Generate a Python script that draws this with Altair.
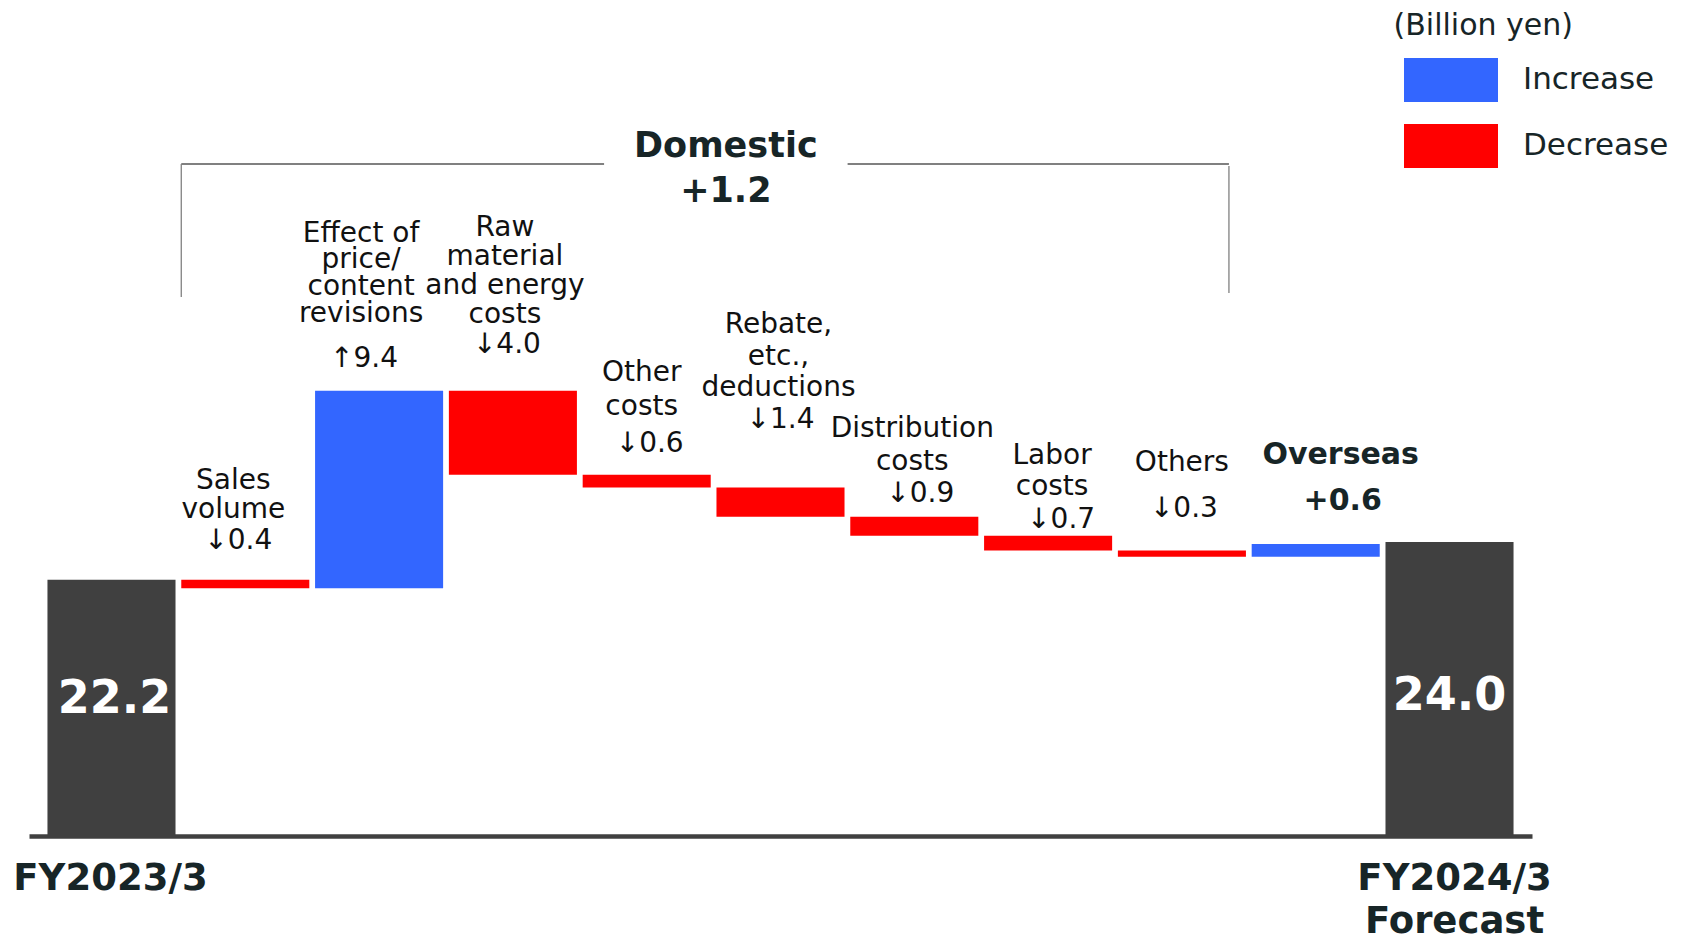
import altair as alt
import pandas as pd

# ---------------- data ----------------
categories = [
    "FY2023/3", "Sales volume", "Effect of price/content revisions",
    "Raw material and energy costs", "Other costs", "Rebate, etc., deductions",
    "Distribution costs", "Labor costs", "Others", "Overseas", "FY2024/3 Forecast",
]
kinds = ["Total", "Decrease", "Increase", "Decrease", "Decrease", "Decrease",
         "Decrease", "Decrease", "Decrease", "Increase", "Total"]
start_total = 22.2
changes = [-0.4, 9.4, -4.0, -0.6, -1.4, -0.9, -0.7, -0.3, 0.6]
end_total = 24.0
category_lines = [
    ["FY2023/3"], ["Sales", "volume"], ["Effect of", "price/", "content", "revisions"],
    ["Raw", "material", "and energy", "costs"], ["Other", "costs"],
    ["Rebate,", "etc.,", "deductions"], ["Distribution", "costs"], ["Labor", "costs"],
    ["Others"], ["Overseas"], ["FY2024/3", "Forecast"],
]
value_labels = ["22.2", "↓0.4", "↑9.4", "↓4.0", "↓0.6", "↓1.4", "↓0.9", "↓0.7",
                "↓0.3", "+0.6", "24.0"]
domestic_label = ["Domestic", "+1.2"]
unit_label = "(Billion yen)"

# ---------------- layout / style ----------------
AXIS_MIN, AXIS_MAX = 10.0, 48.0
FONT = "DejaVu Sans"
DARK = "#172527"
TEXT = "#111111"
BLUE, RED, GRAY = "#3366FF", "#FF0000", "#404040"
PAD_IN, PAD_OUT = 0.043, 0.138

# per-label offsets (pixels, relative to top of bar / bar centre)
LABEL_LAYOUT = {
    "Sales volume": dict(ndx=-12, ndy=-91, lh=29.5, vdx=-7, vdy=-31),
    "Effect of price/content revisions": dict(ndx=-18, ndy=-149, lh=26.7, vdx=-15, vdy=-24),
    "Raw material and energy costs": dict(ndx=-8, ndy=-155, lh=29, vdx=-6, vdy=-38),
    "Other costs": dict(ndx=-5, ndy=-94, lh=34, vdx=3, vdy=-23),
    "Rebate, etc., deductions": dict(ndx=-2, ndy=-154, lh=31.5, vdx=0, vdy=-59),
    "Distribution costs": dict(ndx=-2, ndy=-80, lh=33, vdx=6, vdy=-15),
    "Labor costs": dict(ndx=4, ndy=-72, lh=31, vdx=13, vdy=-8),
    "Others": dict(ndx=0, ndy=-79, lh=30, vdx=2, vdy=-33),
    "Overseas": dict(ndx=25, ndy=-80, lh=30, vdx=27, vdy=-34),
}

# ---------------- table ----------------
rows = [dict(cat=categories[0], kind="Total", lo=AXIS_MIN, hi=start_total)]
cum = start_total
for c, k, d in zip(categories[1:-1], kinds[1:-1], changes):
    rows.append(dict(cat=c, kind=k, lo=cum, hi=cum + d))
    cum += d
rows.append(dict(cat=categories[-1], kind="Total", lo=AXIS_MIN, hi=end_total))
for r, lines, v in zip(rows, category_lines, value_labels):
    r["top"] = max(r["lo"], r["hi"])
    r["lines"] = lines
    r["value"] = v
    r["base"] = AXIS_MIN
df = pd.DataFrame(rows)

yscale = alt.Scale(domain=[AXIS_MIN, AXIS_MAX], nice=False, zero=False)
xscale = alt.Scale(domain=categories, paddingInner=PAD_IN, paddingOuter=PAD_OUT)
xenc = alt.X("cat:N", sort=categories, scale=xscale,
             axis=alt.Axis(title=None, labels=False, ticks=False, grid=False,
                           domainColor=GRAY, domainWidth=4.5))
base = alt.Chart(df).encode(x=xenc)

totals = base.transform_filter("datum.kind == 'Total'").mark_bar(color=GRAY).encode(
    y=alt.Y("lo:Q", scale=yscale, axis=None), y2="hi:Q")

delta_bars = base.transform_filter("datum.kind != 'Total'").mark_bar().encode(
    y=alt.Y("lo:Q", scale=yscale, axis=None), y2="hi:Q",
    color=alt.Color("kind:N",
                    scale=alt.Scale(domain=["Increase", "Decrease"], range=[BLUE, RED]),
                    legend=alt.Legend(title=None, orient="none", legendX=1375, legendY=20,
                                      direction="vertical",
                                      symbolType="M-1,-0.468L1,-0.468L1,0.468L-1,0.468Z",
                                      symbolSize=8836, clipHeight=44, rowPadding=22,
                                      labelOffset=25, labelFontSize=31, labelFont=FONT,
                                      labelColor=DARK, symbolStrokeWidth=0,
                                      symbolOpacity=1, padding=0, labelLimit=400)))

layers = [totals, delta_bars]

for cat in categories[1:-1]:
    lay = LABEL_LAYOUT[cat]
    bold = cat == "Overseas"
    sel = base.transform_filter(alt.datum.cat == cat)
    layers.append(sel.mark_text(
        align="center", baseline="alphabetic", dx=lay["ndx"], dy=lay["ndy"],
        lineHeight=lay["lh"], font=FONT, fontSize=30 if bold else 28,
        fontWeight="bold" if bold else "normal", color=DARK if bold else TEXT,
    ).encode(y=alt.Y("top:Q", scale=yscale, axis=None), text="lines"))
    layers.append(sel.mark_text(
        align="center", baseline="alphabetic", dx=lay["vdx"], dy=lay["vdy"],
        font=FONT, fontSize=30 if bold else 28,
        fontWeight="bold" if bold else "normal", color=DARK if bold else TEXT,
    ).encode(y=alt.Y("top:Q", scale=yscale, axis=None), text="value:N"))

# totals: value inside bar, FY label below axis
for cat, vdx, vdy, fdx in [(categories[0], 3, -123, -1), (categories[-1], 0, -126, 5)]:
    sel = base.transform_filter(alt.datum.cat == cat)
    layers.append(sel.mark_text(
        align="center", baseline="alphabetic", dx=vdx, dy=vdy, font=FONT,
        fontSize=46, fontWeight="bold", color="white",
    ).encode(y=alt.Y("base:Q", scale=yscale, axis=None), text="value:N"))
    layers.append(sel.mark_text(
        align="center", baseline="alphabetic", dx=fdx, dy=54, lineHeight=43,
        font=FONT, fontSize=37, fontWeight="bold", color=DARK,
    ).encode(y=alt.Y("base:Q", scale=yscale, axis=None), text="lines"))

main = alt.layer(*layers)

# ---------------- annotations (index units along x) ----------------
qscale = alt.Scale(domain=[-PAD_OUT, len(categories) - PAD_IN + PAD_OUT], nice=False, zero=False)
h_df = pd.DataFrame({"x": [1.0, 5.98], "x2": [4.16, 8.83], "y": [42.0, 42.0]})
v_df = pd.DataFrame({"x": [1.0, 8.83], "y": [42.0, 41.9], "y2": [35.67, 35.86]})
t_df = pd.DataFrame({"x": [5.07], "y": [42.0], "lines": [domestic_label]})
u_df = pd.DataFrame({"x": [10.06], "y": [48.14], "t": [unit_label]})

h_rules = alt.Chart(h_df).mark_rule(color="#808080", strokeWidth=2.2).encode(
    x=alt.X("x:Q", scale=qscale, axis=None), x2="x2:Q",
    y=alt.Y("y:Q", scale=yscale, axis=None))
v_rules = alt.Chart(v_df).mark_rule(color="#808080", strokeWidth=1.3).encode(
    x=alt.X("x:Q", scale=qscale, axis=None),
    y=alt.Y("y:Q", scale=yscale, axis=None), y2="y2:Q")
dom_text = alt.Chart(t_df).mark_text(
    align="center", baseline="alphabetic", dy=-7, lineHeight=45, font=FONT,
    fontSize=35, fontWeight="bold", color=DARK,
).encode(x=alt.X("x:Q", scale=qscale, axis=None),
         y=alt.Y("y:Q", scale=yscale, axis=None), text="lines")
unit_text = alt.Chart(u_df).mark_text(
    align="left", baseline="alphabetic", font=FONT, fontSize=30, color=DARK,
).encode(x=alt.X("x:Q", scale=qscale, axis=None),
         y=alt.Y("y:Q", scale=yscale, axis=None), text="t:N")

annot = alt.layer(h_rules, v_rules, dom_text, unit_text)

chart = alt.layer(main, annot).resolve_scale(x="independent").properties(
    width=1503, height=798,
    autosize=alt.AutoSizeParams(type="none"),
    padding={"left": 29, "top": 38, "right": 149, "bottom": 102},
    background="white",
).configure_view(stroke=None)

chart.save("out.html", embed_options={"renderer": "svg", "actions": False})
